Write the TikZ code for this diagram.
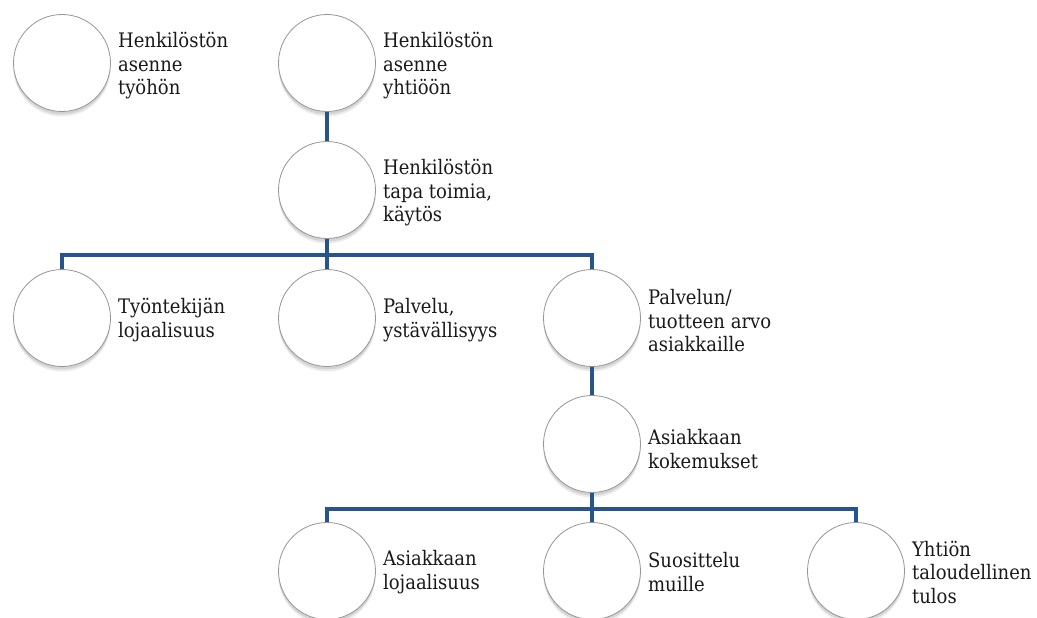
\documentclass[tikz,border=0pt]{standalone}
\usepackage{fontspec}
\setmainfont{DejaVu Serif Condensed}
\usetikzlibrary{shadows}
\definecolor{connc}{RGB}{38,84,140}
\definecolor{ringc}{RGB}{150,150,150}
\begin{document}
\begin{tikzpicture}[x=1pt,y=-1pt,
  bub/.style={circle,draw=ringc,line width=0.8pt,fill=white,minimum size=97pt,inner sep=0pt,
    drop shadow={shadow xshift=0pt,shadow yshift=-5pt,opacity=0.10,fill=black!70},
    drop shadow={shadow xshift=0pt,shadow yshift=-3pt,opacity=0.15,fill=black!70}},
  lab/.style={anchor=west,align=left,inner sep=0pt,font=\fontsize{20}{23.5}\selectfont,text=black!90},
  connl/.style={draw=connc,line width=4.5pt,line join=miter}]
\useasboundingbox[fill=white] (0,0) rectangle (1037,618);

\coordinate (b1) at (327,255);
\coordinate (b2) at (592,509);

\node[bub] (c1) at (62,63) {};
\node[bub] (c2) at (327,63) {};
\node[bub] (c3) at (327,190) {};
\node[bub] (r2a) at (62,318) {};
\node[bub] (r2b) at (327,318) {};
\node[bub] (r2c) at (592,318) {};
\node[bub] (r3) at (592,444) {};
\node[bub] (r4a) at (327,571) {};
\node[bub] (r4b) at (592,571) {};
\node[bub] (r4c) at (856,571) {};

\draw[connl] (c2.south) -- (c3.north);
\draw[connl] (c3.south) -- (b1);
\draw[connl] (r2a.north) |- (b1) -| (r2c.north);
\draw[connl] (b1) -- (r2b.north);
\draw[connl] (r2c.south) -- (r3.north);
\draw[connl] (r3.south) -- (b2);
\draw[connl] (r4a.north) |- (b2) -| (r4c.north);
\draw[connl] (b2) -- (r4b.north);

\node[lab] (t1) at ([xshift=7pt,yshift=-3pt]c1.east) {Henkilöstön\\asenne\\työhön};
\node[lab] (t2) at ([xshift=7pt,yshift=-3pt]c2.east) {Henkilöstön\\asenne\\yhtiöön};
\node[lab] (t3) at ([xshift=7pt,yshift=-3pt]c3.east) {Henkilöstön\\tapa toimia,\\käytös};
\node[lab] (t4) at ([xshift=7pt,yshift=-2pt]r2a.east) {Työntekijän\\lojaalisuus};
\node[lab] (t5) at ([xshift=7pt,yshift=-2pt]r2b.east) {Palvelu,\\ystävällisyys};
\node[lab] (t6) at ([xshift=7pt,yshift=-3pt]r2c.east) {Palvelun/\\tuotteen arvo\\asiakkaille};
\node[lab] (t7) at ([xshift=7pt,yshift=-5pt]r3.east) {Asiakkaan\\kokemukset};
\node[lab] (t8) at ([xshift=7pt,yshift=-1pt]r4a.east) {Asiakkaan\\lojaalisuus};
\node[lab] (t9) at ([xshift=7pt,yshift=-1pt]r4b.east) {Suosittelu\\muille};
\node[lab] (t10) at ([xshift=7pt,yshift=-1pt]r4c.east) {Yhtiön\\taloudellinen\\tulos};
\end{tikzpicture}
\end{document}
